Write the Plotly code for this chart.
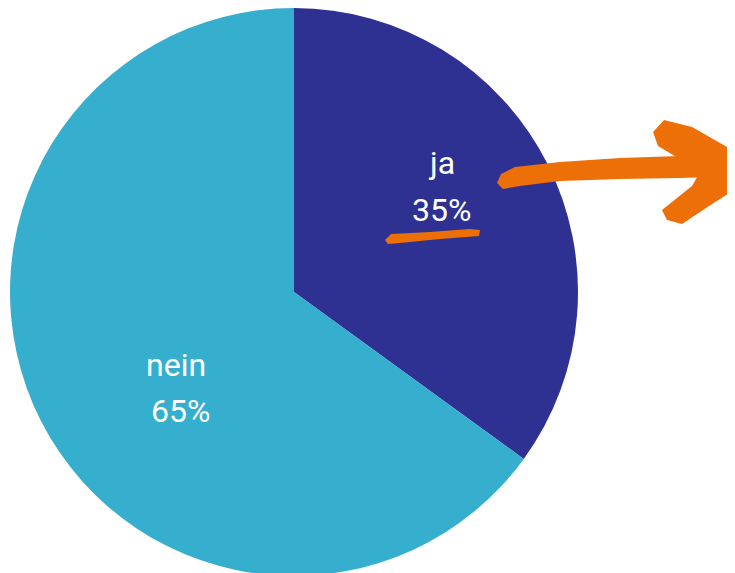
import plotly.graph_objects as go

# Data
labels = ["ja", "nein"]
values = [35, 65]
colors = ["#2E3192", "#36AECE"]
orange = "#EC6F08"

W, H = 735, 568
OFF = 8  # page body margin
fig = go.Figure()

fig.add_trace(go.Pie(
    labels=labels, values=values, sort=False, direction="clockwise", rotation=0,
    marker=dict(colors=colors, line=dict(width=0)),
    textinfo="none", hoverinfo="label+percent",
    domain=dict(x=[0, 572 / 735], y=[0, 1]),
    showlegend=False,
))

# text labels
total = sum(values)
pct = [f"{round(v / total * 100)}%" for v in values]
lab_pos = {"ja": (441, 163, 441, 210), "nein": (176, 365, 180, 411)}
font = dict(family="Roboto", size=32, color="white")
anns = []
for lab, p in zip(labels, pct):
    x1, y1, x2, y2 = lab_pos[lab]
    anns.append(dict(x=x1, y=y1, xref="x", yref="y", text=lab, showarrow=False, font=font))
    anns.append(dict(x=x2, y=y2, xref="x", yref="y", text=p, showarrow=False, font=font))


def poly(pts):
    return "M " + " L ".join(f"{x},{y}" for x, y in pts) + " Z"


shaft = [(497, 183), (501, 174), (515, 167), (560, 162), (620, 158), (680, 156), (712, 157),
         (714, 177), (680, 178), (620, 179), (560, 181), (520, 186), (503, 189)]
head = [(653, 132), (664, 120), (692, 127), (736, 152), (737, 188), (706, 208), (682, 224),
        (667, 220), (662, 210), (692, 186), (700, 172), (690, 165), (658, 146)]
under = [(385, 240), (391, 234), (430, 232), (470, 229), (480, 230), (479, 236), (440, 239),
         (400, 243), (388, 244)]
shapes = [dict(type="path", path=poly(s), xref="x", yref="y", fillcolor=orange,
               line=dict(width=0), layer="above") for s in (shaft, head, under)]

fig.update_layout(
    width=W, height=H, autosize=False,
    margin=dict(l=0, r=0, t=0, b=0),
    paper_bgcolor="white", plot_bgcolor="rgba(0,0,0,0)",
    xaxis=dict(range=[OFF, W + OFF], visible=False, fixedrange=True),
    yaxis=dict(range=[H + OFF, OFF], visible=False, fixedrange=True),
    annotations=anns, shapes=shapes,
)

fig.write_html("out.html")
